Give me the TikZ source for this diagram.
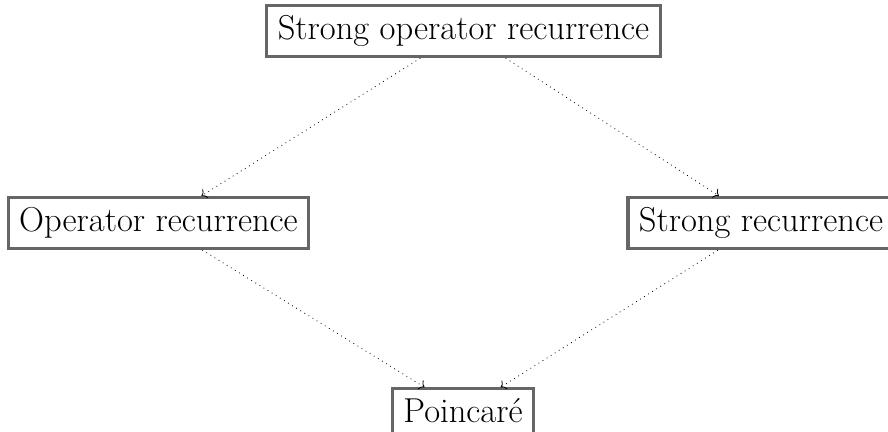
\documentclass[tikz,border=0pt]{standalone}
\usepackage{tikz}
\usetikzlibrary{arrows.meta, positioning, calc}

\begin{document}
\begin{tikzpicture}[x=1pt, y=1pt,
    prop/.style={draw=black!60, line width=1.6pt, inner xsep=5.5pt,
        inner ysep=5pt, font=\LARGE, fill=white},
    impl/.style={->, dotted, thin}]
    \useasboundingbox (0,0) rectangle (444,216);

    % Proprieta'
    \node[prop] (sor) at (231.75,200.5) {Strong operator recurrence};
    \node[prop] (or) at (79.25,104.5) {Operator recurrence};
    \node[prop] (sr) at (380.5,104.5) {Strong recurrence};
    \node[prop] (poi) at (231.5,10.5) {Poincar\'e};

    % Implicazioni
    \draw[impl] (sor) -- (or);
    \draw[impl] (sor) -- (sr);
    \draw[impl] (or) -- (poi);
    \draw[impl] (sr) -- (poi);
\end{tikzpicture}
\end{document}
